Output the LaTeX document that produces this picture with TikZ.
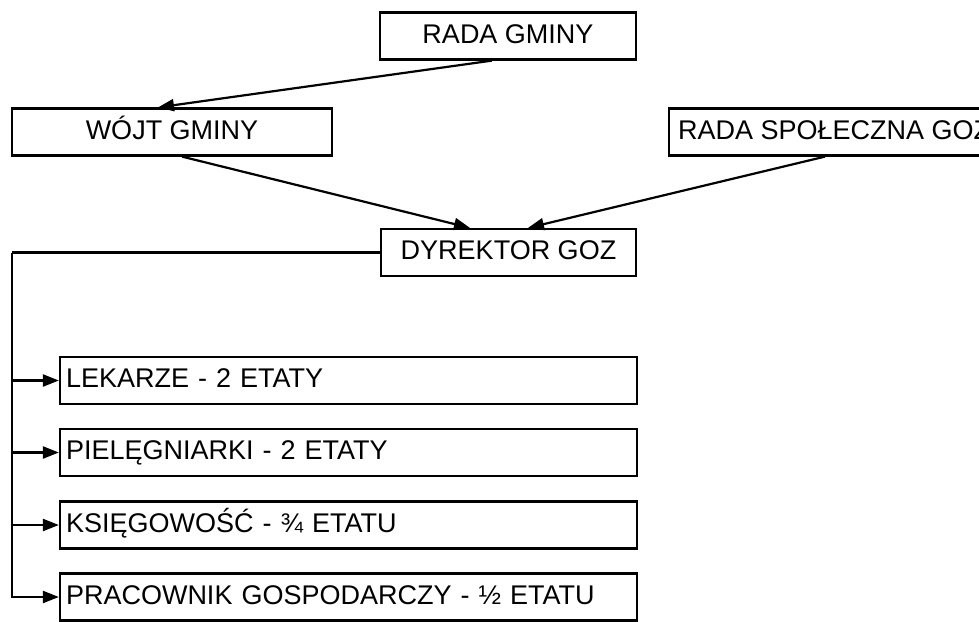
\documentclass[tikz,border=0pt]{standalone}
\usepackage{fontspec}
\setmainfont{Liberation Sans}
\usetikzlibrary{arrows.meta}
\begin{document}
\begin{tikzpicture}[x=1pt,y=-1pt,
  every node/.style={font=\fontsize{27}{30}\selectfont},
  box/.style={draw,line width=2.2pt,minimum height=47pt,inner sep=0pt,text height=19.3pt,text depth=5pt},
  listbox/.style={box,text width=565pt,align=left,inner xsep=6pt},
  conn/.style={line width=2.2pt},
  arr/.style={conn,-{Triangle[length=16pt,width=12pt]}}]
\clip (0,0) rectangle (979,621);
\fill[white] (0,0) rectangle (979,621);
\node[box,minimum width=256pt] (rada) at (508,36) {RADA GMINY};
\node[box,minimum width=320pt] (wojt) at (172,132) {WÓJT GMINY};
\node[box,anchor=west,inner xsep=5.5pt,minimum width=330pt,align=left] (rspol) at (668,132) {RADA SPOŁECZNA GOZ};
\node[box,minimum width=255pt] (dyr) at (508.5,252.5) {DYREKTOR GOZ};
\node[listbox] (b1) at (348.5,380.5) {LEKARZE - 2 ETATY};
\node[listbox] (b2) at (348.5,452.5) {PIELĘGNIARKI - 2 ETATY};
\node[listbox] (b3) at (348.5,525) {KSIĘGOWOŚĆ - ¾ ETATU};
\node[listbox] (b4) at (348.5,597) {PRACOWNIK GOSPODARCZY - ½ ETATU};
\coordinate (trunk) at (12,252.5);
\draw[arr] ([xshift=-16pt]rada.south) -- ([xshift=-14pt]wojt.north);
\draw[arr] ([xshift=10pt]wojt.south) -- ([xshift=-38.5pt]dyr.north);
\draw[arr] ([xshift=157pt]rspol.south west) -- ([xshift=19.5pt]dyr.north);
\draw[conn] (dyr.west) -- (trunk);
\draw[arr,line join=miter] (trunk) |- (b4.west);
\draw[arr] (trunk |- b1.west) -- (b1.west);
\draw[arr] (trunk |- b2.west) -- (b2.west);
\draw[arr] (trunk |- b3.west) -- (b3.west);
\end{tikzpicture}
\end{document}
